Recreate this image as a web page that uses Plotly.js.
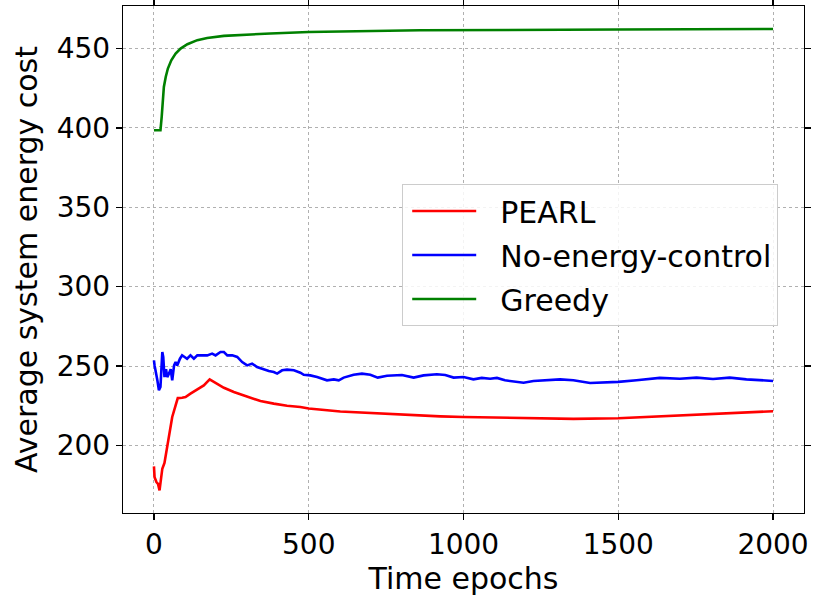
<!DOCTYPE html>
<html>
<head>
<meta charset="utf-8">
<script src="https://cdn.plot.ly/plotly-3.0.1.min.js"></script>
<style>html,body{margin:0;padding:0;background:#fff;}#chart{width:815px;height:600px;}</style>
</head>
<body>
<div id="chart"></div>
<script>
// Time epochs and values
const pearlT = [0,2,8,13,18,24,27,34,41,48,59,70,77,91,102,118,140,161,180,194,226,258,301,344,387,430,473,500,602,763,925,1000,1086,1215,1355,1500,1645,1806,2000];
const pearlV = [186.8,180,176.9,175.8,171.6,180,185.3,188.9,196.8,207.4,217.9,225.2,229.8,230,230.5,232.6,235.1,237.8,241.6,239.9,236.3,233.6,230.5,227.9,226.3,225,224.2,223.2,221.3,219.6,218.3,217.9,217.5,217.1,216.7,217.1,218.3,219.6,221.5];

const noCtrlT = [0,2,11,16,21,27,30,34,39,43,48,54,59,65,70,75,84,91,99,107,118,129,140,156,172,188,199,215,226,237,253,269,285,301,317,333,355,371,387,398,414,430,452,473,484,505,527,559,581,597,613,645,672,699,723,753,801,839,871,914,941,968,1000,1032,1059,1086,1108,1134,1194,1226,1312,1355,1409,1500,1559,1634,1699,1753,1806,1860,1914,2000];
const noCtrlV = [253.6,250.4,241,234.7,236.8,258.8,255.7,243,248,243,245,248,241,250.4,252.5,250.4,254.6,256.7,255.7,254.6,256.7,254.6,256.7,256.7,256.7,257.8,256.7,258.8,258.8,256.7,256.7,255.7,252.5,250.4,251.5,249.4,247.7,246.8,246.2,245.2,247.3,247.7,247.3,245.8,244.5,244.1,243.1,241,241.6,241,242.7,244.5,245.2,244.5,242.7,243.9,244.3,242.7,244.1,244.8,244.3,242.7,243.1,241.6,242.5,242,242.5,241,239.5,240.6,241.6,241,239.3,240,241,242.5,242,242.7,241.8,242.7,241.6,240.6];

const greedyT = [0,21,25,28,32,38,45,56,70,86,108,140,172,226,280,376,500,860,1500,2000];
const greedyV = [398.5,398.5,407,417.4,425.8,432.1,437.4,442.6,446.8,450,452.7,455.3,456.7,458,458.6,459.5,460.4,461.5,462,462.3];

const seriesNames = ['PEARL','No-energy-control','Greedy'];
const xTicks = [0,500,1000,1500,2000];
const yTicks = [200,250,300,350,400,450];

const FONT = 'DejaVu Sans, sans-serif';
const PAD = '\u00a0\u00a0'; // gap between legend line sample and label

const traces = [
  {x: pearlT, y: pearlV, name: PAD + seriesNames[0], legendgroup: 'g1', mode: 'lines', line: {color: '#ff0000', width: 2.6}},
  {x: noCtrlT, y: noCtrlV, name: PAD + seriesNames[1], legendgroup: 'g2', mode: 'lines', line: {color: '#0000ff', width: 2.6}},
  {x: greedyT, y: greedyV, name: PAD + seriesNames[2], legendgroup: 'g3', mode: 'lines', line: {color: '#008000', width: 2.6}}
];

const axisCommon = {
  showline: true, mirror: 'ticks', linecolor: '#000', linewidth: 1.3,
  ticks: 'outside', ticklen: 6, tickwidth: 1.2, tickcolor: '#000',
  showgrid: true, gridcolor: '#b0b0b0', gridwidth: 1, griddash: 'dot',
  zeroline: false,
  tickfont: {family: FONT, size: 28, color: '#000'}
};

const layout = {
  width: 815, height: 600,
  margin: {l: 123, r: 11, t: 6, b: 87},
  paper_bgcolor: '#fff', plot_bgcolor: '#fff',
  font: {family: FONT, color: '#000'},
  xaxis: Object.assign({}, axisCommon, {
    range: [-100, 2100], tickmode: 'array', tickvals: xTicks, ticktext: xTicks.map(String),
    title: {text: 'Time epochs', font: {family: FONT, size: 30, color: '#000'}, standoff: 5}
  }),
  yaxis: Object.assign({}, axisCommon, {
    range: [157.4, 476.8], tickmode: 'array', tickvals: yTicks, ticktext: yTicks.map(String),
    title: {text: 'Average system energy cost', font: {family: FONT, size: 30, color: '#000'}, standoff: 10}
  }),
  showlegend: true,
  legend: {
    x: 0.41, y: 0.649, xanchor: 'left', yanchor: 'top',
    bgcolor: 'rgba(255,255,255,0.85)', bordercolor: '#cccccc', borderwidth: 1,
    font: {family: FONT, size: 30, color: '#000'},
    itemwidth: 64, tracegroupgap: 2, indentation: 4
  }
};

Plotly.newPlot('chart', traces, layout, {staticPlot: true, displayModeBar: false});
</script>
</body>
</html>
